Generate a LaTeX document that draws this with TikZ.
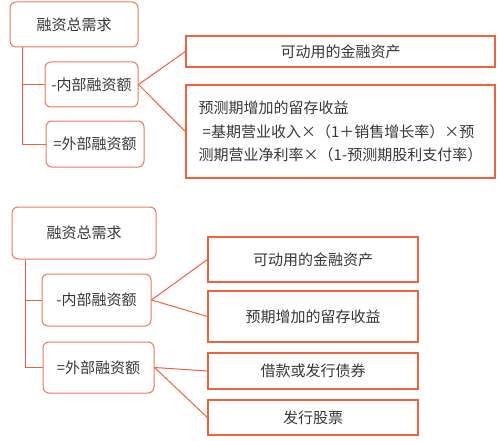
\documentclass[tikz,border=0pt]{standalone}
\usepackage{fontspec}
\setmainfont{Noto Sans CJK SC}
\definecolor{boxred}{RGB}{238,98,64}
\definecolor{headred}{RGB}{240,120,90}
\definecolor{textgray}{RGB}{55,55,55}
\begin{document}
\begin{tikzpicture}[x=1pt, y=-1pt,
  every node/.style={font=\fontsize{15}{23.5}\selectfont, text=textgray},
  headbox/.style={line width=1pt, draw=headred, shape=rectangle, rounded corners=6pt, inner sep=0pt},
  itembox/.style={line width=1.3pt, draw=boxred, shape=rectangle, inner sep=0pt},
  link/.style={line width=1pt, draw=boxred}]
\useasboundingbox (0,0) rectangle (500,441);
\node[headbox, minimum width=128, minimum height=45](total1) at (74,24.5) {融资总需求};
\node[headbox, minimum width=93, minimum height=45](inner1) at (91.5,84.5) {-内部融资额};
\node[headbox, minimum width=98, minimum height=46](outer1) at (95,144) {=外部融资额};
\node[itembox, minimum width=309, minimum height=31](asset1) at (340.5,51.5) {可动用的金融资产};
\node[itembox, minimum width=309, minimum height=93, align=left](retain1) at (340.5,131.5) {预测期增加的留存收益\\\hspace*{4pt}=基期营业收入×（1＋销售增长率）×预\\测期营业净利率×（1-预测期股利支付率）};
\draw[link] (total1.south west) ++(13,0) |- (inner1.west);
\draw[link] (total1.south west) ++(13,0) |- (outer1.west);
\draw[link] (inner1.east) -- (asset1.west);
\draw[link] (inner1.east) -- (retain1.west);
\node[headbox, minimum width=144, minimum height=52](total2) at (84,233) {融资总需求};
\node[headbox, minimum width=109, minimum height=52](inner2) at (96.5,300) {-内部融资额};
\node[headbox, minimum width=111, minimum height=51](outer2) at (98.5,367.5) {=外部融资额};
\node[itembox, minimum width=210, minimum height=45](asset2) at (313,259.5) {可动用的金融资产};
\node[itembox, minimum width=210, minimum height=51](retain2) at (313,316.5) {预期增加的留存收益};
\node[itembox, minimum width=210, minimum height=36](debt2) at (313,371) {借款或发行债券};
\node[itembox, minimum width=210, minimum height=35](stock2) at (313,417.5) {发行股票};
\draw[link] (total2.south west) ++(14,0) |- (inner2.west);
\draw[link] (total2.south west) ++(14,0) |- (outer2.west);
\draw[link] (inner2.east) -- (asset2.west);
\draw[link] (inner2.east) -- (retain2.west);
\draw[link] (outer2.east) -- (debt2.west);
\draw[link] (outer2.east) -- (stock2.west);
\end{tikzpicture}
\end{document}
